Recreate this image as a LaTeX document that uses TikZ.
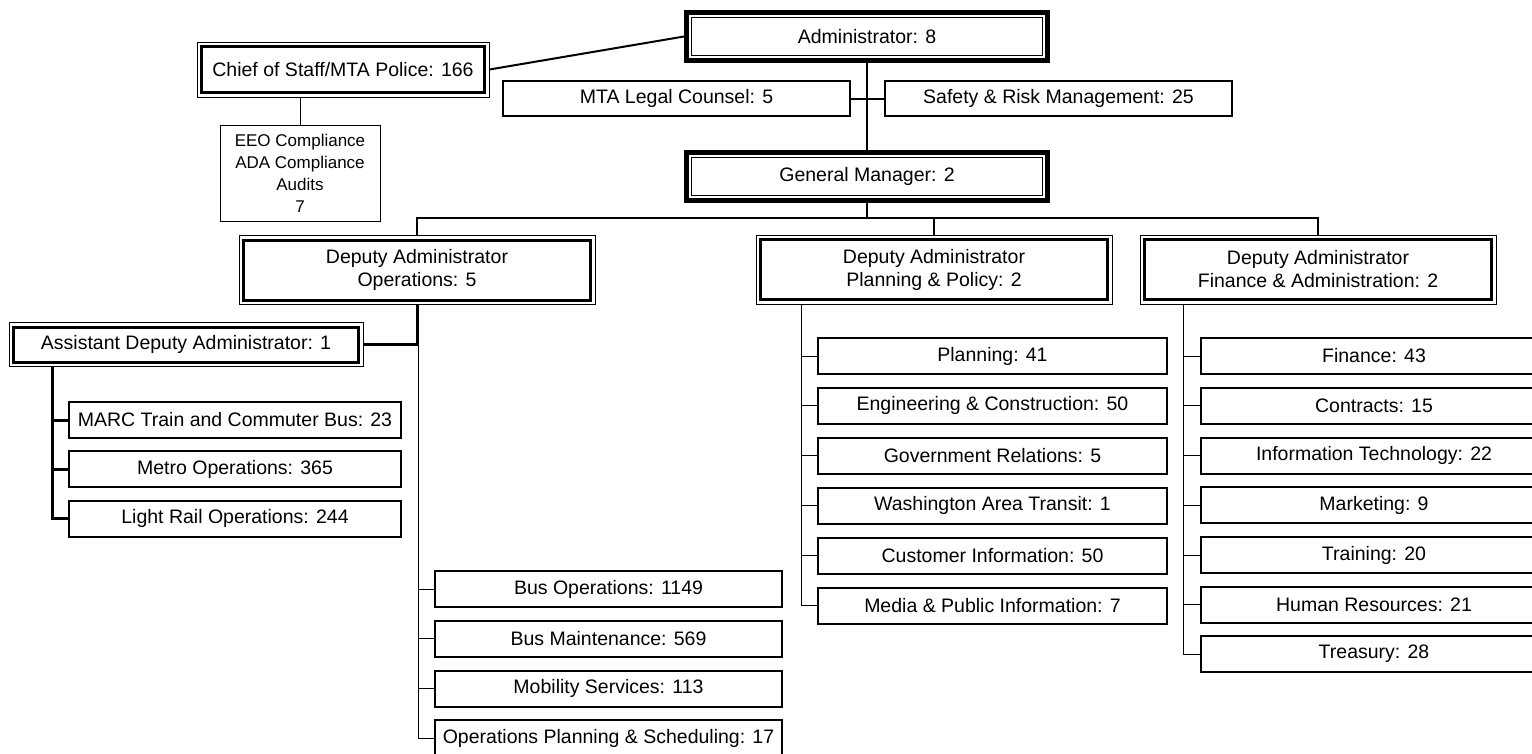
\documentclass[tikz,border=0pt]{standalone}
\usepackage{fontspec}
\setmainfont{Liberation Sans}
\begin{document}
\begin{tikzpicture}[x=1pt,y=-1pt,
  every node/.style={inner sep=0pt, align=center, font=\fontsize{19.5}{23}\selectfont},
  leaf/.style={draw, line width=2pt, minimum width=347pt, minimum height=36pt},
  topbox/.style={draw, line width=5pt, minimum width=361pt, minimum height=48pt,
    path picture={\draw[line width=1pt] ([shift={(5pt,-5pt)}]path picture bounding box.north west) rectangle ([shift={(-5pt,5pt)}]path picture bounding box.south east);}},
  midbox/.style={draw, line width=0.8pt,
    path picture={\draw[line width=3pt] ([shift={(4.5pt,-4.5pt)}]path picture bounding box.north west) rectangle ([shift={(-4.5pt,4.5pt)}]path picture bounding box.south east);}},
  depbox/.style={midbox, minimum width=356pt, minimum height=69pt},
  conn/.style={line width=2pt},
  thickconn/.style={line width=3pt},
  thinconn/.style={line width=1pt}
]
\useasboundingbox (0,0) rectangle (1532,753);
\clip (0,0) rectangle (1532,753);

% top level
\node[midbox, minimum width=292pt, minimum height=55pt] (chief) at (343,69.5) {Chief of Staff/MTA Police: 166};
\node[draw, line width=1pt, minimum width=160pt, minimum height=96pt, font=\fontsize{17}{22}\selectfont] (eeo) at (300,173) {EEO Compliance\\ADA Compliance\\Audits\\7};
\node[topbox] (admin) at (867,36.5) {Administrator: 8};
\node[leaf, minimum height=35pt] (legal) at (676.5,98.5) {MTA Legal Counsel: 5};
\node[leaf, minimum height=35pt] (safety) at (1058.5,98.5) {Safety \& Risk Management: 25};
\node[topbox] (gm) at (867,176.5) {General Manager: 2};

% deputies
\node[depbox] (depops) at (417,270) {Deputy Administrator\\Operations: 5};
\node[depbox] (depplan) at (934,269.5) {Deputy Administrator\\Planning \& Policy: 2};
\node[depbox] (depfin) at (1318,269.5) {Deputy Administrator\\Finance \& Administration: 2};
\node[midbox, minimum width=354pt, minimum height=44pt] (asst) at (186,344.5) {Assistant Deputy Administrator: 1};

% assistant's units
\node[leaf, minimum width=332pt] (marc) at (235,420) {MARC Train and Commuter Bus: 23};
\node[leaf, minimum width=332pt] (metro) at (235,469) {Metro Operations: 365};
\node[leaf, minimum width=332pt] (lr) at (235,518.5) {Light Rail Operations: 244};

% bus units
\node[leaf] (o1) at (608.5,589) {Bus Operations: 1149};
\node[leaf] (o2) at (608.5,638.5) {Bus Maintenance: 569};
\node[leaf] (o3) at (608.5,688.5) {Mobility Services: 113};
\node[leaf] (o4) at (608.5,738) {Operations Planning \& Scheduling: 17};

% planning units
\node[leaf, minimum width=349pt] (p1) at (992.5,356) {Planning: 41};
\node[leaf, minimum width=349pt] (p2) at (992.5,405.5) {Engineering \& Construction: 50};
\node[leaf, minimum width=349pt] (p3) at (992.5,455.5) {Government Relations: 5};
\node[leaf, minimum width=349pt] (p4) at (992.5,505.5) {Washington Area Transit: 1};
\node[leaf, minimum width=349pt] (p5) at (992.5,555.5) {Customer Information: 50};
\node[leaf, minimum width=349pt] (p6) at (992.5,605.5) {Media \& Public Information: 7};

% finance units
\node[leaf] (f1) at (1374,356) {Finance: 43};
\node[leaf] (f2) at (1374,405.5) {Contracts: 15};
\node[leaf] (f3) at (1374,455.5) {Information Technology: 22};
\node[leaf] (f4) at (1374,505) {Marketing: 9};
\node[leaf] (f5) at (1374,555) {Training: 20};
\node[leaf] (f6) at (1374,604.5) {Human Resources: 21};
\node[leaf] (f7) at (1374,654) {Treasury: 28};

% connectors, top
\draw[conn] (chief.east) -- (admin.west);
\draw[thinconn] (eeo.north) -- (eeo.north |- chief.south);
\draw[conn] (admin.south) -- (gm.north);
\draw[conn] (legal.east) -- (safety.west);
\coordinate (hb) at (867,218);
\draw[conn] (gm.south) -- (hb);
\draw[conn] (depops.north) -- (depops.north |- hb) -- (depfin.north |- hb) -- (depfin.north);
\draw[conn] (depplan.north) -- (depplan.north |- hb);

% operations branch
\draw[thickconn] (depops.south) |- (asst.east);
\coordinate (ov) at (418,0);
\draw[thinconn] (ov |- asst.east) -- (ov |- o4.west) -- (o4.west);
\foreach \n in {o1,o2,o3} \draw[thinconn] (ov |- \n.west) -- (\n.west);

\coordinate (av) at (52,0);
\draw[thickconn] (av |- asst.south) -- (av |- lr.west) -- (lr.west);
\foreach \n in {marc,metro} \draw[thickconn] (av |- \n.west) -- (\n.west);

% planning branch
\coordinate (pv) at (801,0);
\draw[thinconn] (pv |- depplan.south) -- (pv |- p6.west) -- (p6.west);
\foreach \n in {p1,p2,p3,p4,p5} \draw[thinconn] (pv |- \n.west) -- (\n.west);

% finance branch
\coordinate (fv) at (1183,0);
\draw[thinconn] (fv |- depfin.south) -- (fv |- f7.west) -- (f7.west);
\foreach \n in {f1,f2,f3,f4,f5,f6} \draw[thinconn] (fv |- \n.west) -- (\n.west);
\end{tikzpicture}
\end{document}
